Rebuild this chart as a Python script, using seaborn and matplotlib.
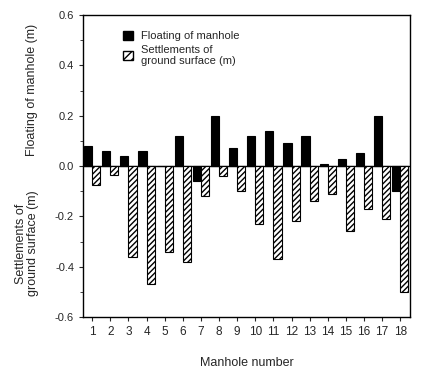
"""
Manhole floating vs. ground surface settlement chart
"""
import numpy as np
import pandas as pd
import matplotlib
matplotlib.use('Agg')
import matplotlib.pyplot as plt
from matplotlib.patches import Patch
import seaborn as sns

# Data
manholes = [str(i) for i in range(1, 19)]
floating = [0.08, 0.06, 0.04, 0.06, 0.0, 0.12, -0.06, 0.20, 0.07,
            0.12, 0.14, 0.09, 0.12, 0.01, 0.03, 0.05, 0.20, -0.10]
settlements = [-0.075, -0.035, -0.36, -0.47, -0.34, -0.38, -0.12, -0.04, -0.10,
               -0.23, -0.37, -0.22, -0.14, -0.11, -0.26, -0.17, -0.21, -0.50]
series_names = ['Floating of manhole', 'Settlements of\nground surface (m)']
y_ticks = [-0.6, -0.4, -0.2, 0.0, 0.2, 0.4, 0.6]

df = pd.DataFrame({
    'Manhole': manholes * 2,
    'Value': floating + settlements,
    'Series': [series_names[0]] * len(manholes) + [series_names[1]] * len(manholes),
})

sns.set_style('ticks')
plt.rcParams['font.family'] = ['Liberation Sans', 'DejaVu Sans']

fig = plt.figure(figsize=(4.22, 3.69), dpi=100)
ax = fig.add_axes([0.197, 0.141, 0.775, 0.818])

sns.barplot(
    data=df, x='Manhole', y='Value', hue='Series',
    palette={series_names[0]: 'black', series_names[1]: 'white'},
    edgecolor='black', linewidth=0.8, width=0.9, dodge=True,
    legend=False, ax=ax
)

# hatch the settlement bars
n = len(manholes)
for i, patch in enumerate(ax.patches[:2 * n]):
    if i >= n:
        patch.set_hatch('//////')

# zero line
ax.axhline(0, color='black', linewidth=1.0, zorder=0)
ax.set_ylim(-0.6, 0.6)
ax.set_xlim(-0.5, 17.55)
ax.set_yticks(y_ticks)
ax.set_yticklabels([f"{v:.1f}" for v in y_ticks], fontsize=8)
ax.set_yticks(np.arange(-0.6, 0.61, 0.1), minor=True)
ax.tick_params(axis='x', labelsize=8.5, length=3, direction='out')
ax.tick_params(axis='y', length=3, direction='out')
ax.tick_params(axis='y', which='minor', length=2)
for side in ['left', 'right', 'top', 'bottom']:
    ax.spines[side].set_visible(True)
    ax.spines[side].set_linewidth(1.0)
    ax.spines[side].set_color('black')

ax.set_xlabel('Manhole number', fontsize=9, labelpad=14)
ax.set_ylabel('')

# two-part y label
fig.text(0.075, 0.755, 'Floating of manhole (m)', rotation=90,
         ha='center', va='center', fontsize=9)
fig.text(0.065, 0.34, 'Settlements of\nground surface (m)', rotation=90,
         ha='center', va='center', fontsize=9, linespacing=1.0)

handles = [
    Patch(facecolor='black', edgecolor='black'),
    Patch(facecolor='white', edgecolor='black', hatch='////'),
]
ax.legend(handles, series_names, loc='upper left', bbox_to_anchor=(0.1, 0.97),
          frameon=False, fontsize=8, handlelength=0.9, handleheight=0.9,
          handletextpad=0.8, labelspacing=0.3, borderaxespad=0.2)

plt.savefig('out.png', dpi=100)
plt.close()
